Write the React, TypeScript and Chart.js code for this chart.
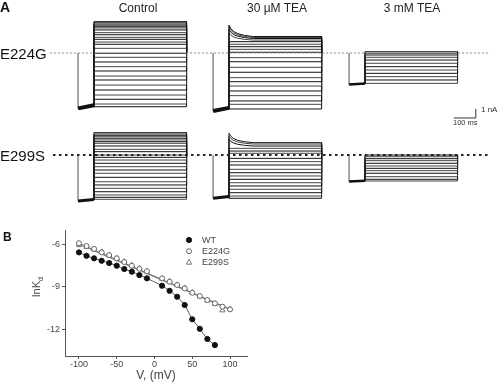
import React, { useEffect, useRef } from 'react';
import { Chart, registerables } from 'chart.js';
Chart.register(...registerables);

const FONT = 'Arial, "Liberation Sans", Helvetica, sans-serif';

// ---------- Panel A data (currents in nA, time in ms) ----------
const conditionOffsetsMs = [0, 614, 1232];
const prepulseEndMs = 72;
const stepEndMs = 493;
const transientTimesMs = [0, 8, 20, 40, 70, 110];
const transientFraction = [1, 0.7, 0.45, 0.25, 0.1, 0];

const e224gControlLevels = [3.48, 3.37, 3.22, 3.08, 2.92, 2.78, 2.56, 2.26, 2.03, 1.74, 1.52, 1.22, 0.97, 0.52, -0.03, -0.48, -1.0, -1.52, -2.0, -2.56, -3.0, -3.56, -4.11, -4.67, -5.14, -5.67, -5.97];
const e224gControlPrepulse = [-6.15, -5.8];
const e224gTea30Levels = [1.83, 1.72, 1.61, 1.44, 1.26, 0.97, 0.7, 0.41, 0.08, -0.52, -0.97, -1.59, -2.14, -2.74, -3.19, -3.67, -4.22, -4.74, -5.33, -5.7, -6.22];
const e224gTea30Peaks = [3.11, 2.89, 2.61, 2.22];
const e224gTea30Prepulse = [-6.45, -6.1];
const e224gTea3Levels = [0.14, -0.03, -0.22, -0.48, -0.78, -1.14, -1.52, -1.89, -2.26, -2.63, -3.0, -3.37];
const e224gTea3Prepulse = [-3.5, -3.4];

const e299sControlLevels = [2.48, 2.33, 2.19, 2.03, 1.86, 1.67, 1.48, 1.3, 1.0, 0.63, 0.37, 0, -0.26, -0.56, -0.92, -1.3, -1.67, -2.03, -2.48, -2.97, -3.33, -3.7, -4.08, -4.44, -4.7, -4.92];
const e299sControlPrepulse = [-5.1, -4.95];
const e299sTea30Levels = [1.37, 1.22, 1.0, 0.74, 0.44, 0.19, -0.37, -0.74, -1.11, -1.59, -1.97, -2.33, -2.7, -3.08, -3.44, -3.81, -4.19, -4.56, -4.81];
const e299sTea30Peaks = [2.41, 2.1, 1.75];
const e299sTea30Prepulse = [-4.8, -4.6];
const e299sTea3Levels = [0, -0.19, -0.41, -0.63, -0.92, -1.22, -1.48, -1.74, -2.03, -2.41, -2.7, -2.89];
const e299sTea3Prepulse = [-2.95, -2.85];

const row1ZeroLineMs = [-127, 1873];
const row2ZeroLineMs = [-114, 1873];
const scaleBarCornerMs = 1808;
const scaleBarCornerNa = -7.22;
const scaleBarMs = 100;
const scaleBarNa = 1;

const rowXRange = [-355, 1918];
const row1YRange = [-8.0, 4.333];
const row2YRange = [-6.333, 3.667];

// ---------- Panel B data ----------
const voltagesWT = [-100, -90, -80, -70, -60, -50, -40, -30, -20, -10, 10, 20, 30, 40, 50, 60, 70, 80];
const lnKdWT = [-6.59, -6.83, -7.01, -7.18, -7.34, -7.53, -7.76, -7.95, -8.19, -8.42, -8.94, -9.3, -9.72, -10.3, -11.31, -11.98, -12.7, -13.13];
const voltagesMut = [-100, -90, -80, -70, -60, -50, -40, -30, -20, -10, 10, 20, 30, 40, 50, 60, 70, 80, 90, 100];
const lnKdE224G = [-5.94, -6.14, -6.34, -6.59, -6.78, -7.01, -7.27, -7.53, -7.75, -7.92, -8.42, -8.66, -8.89, -9.13, -9.44, -9.67, -9.95, -10.19, -10.42, -10.61];
const lnKdE299S = [-6.08, -6.2, -6.38, -6.55, -6.8, -7.0, -7.25, -7.5, -7.72, -7.95, -8.45, -8.62, -8.88, -9.1, -9.42, -9.7, -9.98, -10.22, -10.68, -10.58];
const fitVoltages = [-100, 100];
const fitE224G = [-5.95, -10.6];
const fitE299S = [-6.02, -10.63];
const xTicksB = [-100, -50, 0, 50, 100];
const yTicksB = [-12, -9, -6];
const legendLabels = ['WT', 'E224G', 'E299S'];

type Pt = { x: number; y: number };

function buildTraces(offset: number, levels: number[], prepulse: number[], peaks?: number[]) {
  return levels.map((lvl, i) => {
    const pts: Pt[] = [
      { x: offset, y: prepulse[0] },
      { x: offset + prepulseEndMs, y: prepulse[1] },
    ];
    if (peaks && i < peaks.length) {
      transientTimesMs.forEach((t, k) => {
        pts.push({ x: offset + prepulseEndMs + t, y: lvl + (peaks[i] - lvl) * transientFraction[k] });
      });
    } else {
      pts.push({ x: offset + prepulseEndMs, y: lvl });
    }
    pts.push({ x: offset + stepEndMs, y: lvl }, { x: offset + stepEndMs, y: 0 });
    return {
      data: pts,
      showLine: true,
      borderColor: i % 2 === 0 ? '#111' : '#444',
      borderWidth: 1,
      pointRadius: 0,
      fill: false,
    };
  });
}

// thin capacitive jump from zero to the prepulse level
function onsetLine(offset: number, prepulse: number[]) {
  return {
    data: [
      { x: offset, y: 0 },
      { x: offset, y: prepulse[0] },
    ],
    showLine: true,
    borderColor: '#999',
    borderWidth: 1,
    pointRadius: 0,
    fill: false,
  };
}

function prepulseBand(offset: number, prepulse: number[], width: number) {
  return {
    data: [
      { x: offset, y: prepulse[0] },
      { x: offset + prepulseEndMs, y: prepulse[1] },
    ],
    showLine: true,
    borderColor: '#111',
    borderWidth: width,
    pointRadius: 0,
    fill: false,
  };
}

function rowConfig(datasets: any[], yRange: number[]) {
  return {
    type: 'scatter' as const,
    data: { datasets },
    options: {
      animation: false as const,
      responsive: false,
      events: [],
      layout: { padding: 0 },
      plugins: { legend: { display: false }, tooltip: { enabled: false } },
      scales: {
        x: { type: 'linear' as const, display: false, min: rowXRange[0], max: rowXRange[1] },
        y: { type: 'linear' as const, display: false, min: yRange[0], max: yRange[1] },
      },
      elements: { line: { tension: 0 } },
    },
  };
}

const insetLegend = {
  id: 'insetLegend',
  afterDraw(chart: any) {
    const ctx = chart.ctx;
    const area = chart.chartArea;
    const items = chart.data.datasets.filter((d: any) => legendLabels.includes(d.label));
    items.sort((a: any, b: any) => legendLabels.indexOf(a.label) - legendLabels.indexOf(b.label));
    ctx.save();
    ctx.font = '9px ' + FONT;
    ctx.textBaseline = 'middle';
    items.forEach((d: any, i: number) => {
      const mx = area.left + 124;
      const my = area.top + 10 + i * 11.2;
      ctx.lineWidth = 1;
      ctx.strokeStyle = d.borderColor;
      ctx.fillStyle = d.pointBackgroundColor;
      ctx.beginPath();
      if (d.pointStyle === 'triangle') {
        const r = d.pointRadius;
        ctx.moveTo(mx, my - r);
        ctx.lineTo(mx + r * 0.9, my + r * 0.6);
        ctx.lineTo(mx - r * 0.9, my + r * 0.6);
        ctx.closePath();
      } else {
        ctx.arc(mx, my, d.pointRadius, 0, Math.PI * 2);
      }
      ctx.fill();
      ctx.stroke();
      ctx.fillStyle = '#444';
      ctx.fillText(d.label, mx + 13, my + 0.5);
    });
    ctx.restore();
  },
};

export default function App() {
  const row1Ref = useRef<HTMLCanvasElement>(null);
  const row2Ref = useRef<HTMLCanvasElement>(null);
  const panelBRef = useRef<HTMLCanvasElement>(null);

  useEffect(() => {
    Chart.defaults.font.family = FONT;
    const [o1, o2, o3] = conditionOffsetsMs;

    const scaleBar = {
      data: [
        { x: scaleBarCornerMs - scaleBarMs, y: scaleBarCornerNa },
        { x: scaleBarCornerMs, y: scaleBarCornerNa },
        { x: scaleBarCornerMs, y: scaleBarCornerNa + scaleBarNa },
      ],
      showLine: true,
      borderColor: '#333',
      borderWidth: 1,
      pointRadius: 0,
    };

    const row1 = [
      {
        data: [{ x: row1ZeroLineMs[0], y: 0 }, { x: row1ZeroLineMs[1], y: 0 }],
        showLine: true, borderColor: '#888', borderWidth: 1, borderDash: [2, 2], pointRadius: 0,
      },
      scaleBar,
      prepulseBand(o1, e224gControlPrepulse, 4),
      prepulseBand(o2, e224gTea30Prepulse, 4),
      prepulseBand(o3, e224gTea3Prepulse, 2.5),
      onsetLine(o1, e224gControlPrepulse),
      onsetLine(o2, e224gTea30Prepulse),
      onsetLine(o3, e224gTea3Prepulse),
      ...buildTraces(o1, e224gControlLevels, e224gControlPrepulse),
      ...buildTraces(o2, e224gTea30Levels, e224gTea30Prepulse, e224gTea30Peaks),
      ...buildTraces(o3, e224gTea3Levels, e224gTea3Prepulse),
    ];
    const row2 = [
      {
        data: [{ x: row2ZeroLineMs[0], y: 0 }, { x: row2ZeroLineMs[1], y: 0 }],
        showLine: true, borderColor: '#222', borderWidth: 2, borderDash: [2.5, 3.5], pointRadius: 0,
      },
      prepulseBand(o1, e299sControlPrepulse, 3),
      prepulseBand(o2, e299sTea30Prepulse, 3),
      prepulseBand(o3, e299sTea3Prepulse, 2.5),
      onsetLine(o1, e299sControlPrepulse),
      onsetLine(o2, e299sTea30Prepulse),
      onsetLine(o3, e299sTea3Prepulse),
      ...buildTraces(o1, e299sControlLevels, e299sControlPrepulse),
      ...buildTraces(o2, e299sTea30Levels, e299sTea30Prepulse, e299sTea30Peaks),
      ...buildTraces(o3, e299sTea3Levels, e299sTea3Prepulse),
    ];

    const toPts = (xs: number[], ys: number[]) => xs.map((x, i) => ({ x, y: ys[i] }));

    const panelB = new Chart(panelBRef.current as HTMLCanvasElement, {
      type: 'scatter',
      data: {
        datasets: [
          {
            label: 'WT', data: toPts(voltagesWT, lnKdWT), pointStyle: 'circle', pointRadius: 2.6,
            pointBackgroundColor: '#111', borderColor: '#111', pointBorderColor: '#111', pointBorderWidth: 1, order: 1,
          } as any,
          {
            label: 'E224G', data: toPts(voltagesMut, lnKdE224G), pointStyle: 'circle', pointRadius: 2.5,
            pointBackgroundColor: '#fff', borderColor: '#666', pointBorderColor: '#666', pointBorderWidth: 1, order: 1,
          },
          {
            label: 'E299S', data: toPts(voltagesMut, lnKdE299S), pointStyle: 'triangle', pointRadius: 3,
            pointBackgroundColor: '#fff', borderColor: '#777', pointBorderColor: '#777', pointBorderWidth: 1, order: 1,
          },
          {
            label: 'WT fit', data: toPts(voltagesWT, lnKdWT), showLine: true, pointRadius: 0,
            borderColor: '#555', borderWidth: 1, tension: 0.2, order: 2,
          },
          {
            label: 'E224G fit', data: toPts(fitVoltages, fitE224G), showLine: true, pointRadius: 0,
            borderColor: '#666', borderWidth: 1, order: 2,
          },
          {
            label: 'E299S fit', data: toPts(fitVoltages, fitE299S), showLine: true, pointRadius: 0,
            borderColor: '#888', borderWidth: 1, order: 2,
          },
        ],
      },
      options: {
        animation: false,
        responsive: false,
        events: [],
        layout: { padding: { top: 15, right: 15, left: 0, bottom: 0 } },
        plugins: { legend: { display: false }, tooltip: { enabled: false } },
        scales: {
          x: {
            type: 'linear', min: -118.5, max: 122.5,
            afterBuildTicks: (s: any) => { s.ticks = xTicksB.map((v) => ({ value: v })); },
            afterFit: (s: any) => { s.height = 28; },
            grid: { display: true, drawOnChartArea: false, drawTicks: true, tickLength: 3, color: '#555' },
            border: { display: true, color: '#555', width: 1 },
            ticks: { padding: 0, color: '#444', font: { size: 9 }, maxRotation: 0 },
            title: { display: true, text: 'V, (mV)', color: '#444', font: { size: 12 }, padding: { top: 0, bottom: 1 } },
          },
          y: {
            type: 'linear', min: -13.9, max: -5.01,
            afterBuildTicks: (s: any) => { s.ticks = yTicksB.map((v) => ({ value: v })); },
            afterFit: (s: any) => { s.width = 65; },
            grid: { display: true, drawOnChartArea: false, drawTicks: true, tickLength: 3, color: '#555' },
            border: { display: true, color: '#555', width: 1 },
            ticks: { padding: 2, color: '#444', font: { size: 9 } },
          },
        },
      },
      plugins: [insetLegend],
    } as any);

    const charts = [
      new Chart(row1Ref.current as HTMLCanvasElement, rowConfig(row1, row1YRange) as any),
      new Chart(row2Ref.current as HTMLCanvasElement, rowConfig(row2, row2YRange) as any),
      panelB,
    ];
    return () => charts.forEach((c) => c.destroy());
  }, []);

  const txt = (s: React.CSSProperties): React.CSSProperties => ({
    position: 'absolute', lineHeight: 1, whiteSpace: 'nowrap', color: '#111', ...s,
  });

  return (
    <div style={{ position: 'fixed', left: 0, top: 0, width: 500, height: 384, background: '#fff', overflow: 'hidden', fontFamily: FONT }}>
      <canvas ref={row1Ref} width={500} height={111} style={{ position: 'absolute', left: 0, top: 14, width: 500, height: 111 }} />
      <canvas ref={row2Ref} width={500} height={90} style={{ position: 'absolute', left: 0, top: 122, width: 500, height: 90 }} />
      <canvas ref={panelBRef} width={262} height={169} style={{ position: 'absolute', left: 0, top: 215, width: 262, height: 169 }} />

      <div style={txt({ left: 0, top: 0, fontSize: 14, fontWeight: 'bold' })}>A</div>
      <div style={txt({ left: 88, top: 2, width: 100, textAlign: 'center', fontSize: 12, color: '#222' })}>Control</div>
      <div style={txt({ left: 227, top: 2, width: 100, textAlign: 'center', fontSize: 12, color: '#222' })}>30 µM TEA</div>
      <div style={txt({ left: 362, top: 2, width: 100, textAlign: 'center', fontSize: 12, color: '#222' })}>3 mM TEA</div>
      <div style={txt({ left: 0, top: 45.5, fontSize: 15 })}>E224G</div>
      <div style={txt({ left: 0, top: 148, fontSize: 15 })}>E299S</div>
      <div style={txt({ left: 481, top: 106, fontSize: 8, color: '#333' })}>1 nA</div>
      <div style={txt({ left: 453, top: 119, fontSize: 7.5, color: '#333' })}>100 ms</div>

      <div style={txt({ left: 3, top: 231, fontSize: 12, fontWeight: 'bold' })}>B</div>
      <div style={txt({ left: 18, top: 280, width: 40, height: 14, textAlign: 'center', fontSize: 11, color: '#444', transform: 'rotate(-90deg)' })}>
        lnK<sub style={{ fontSize: 7 }}>d</sub>
      </div>
    </div>
  );
}
